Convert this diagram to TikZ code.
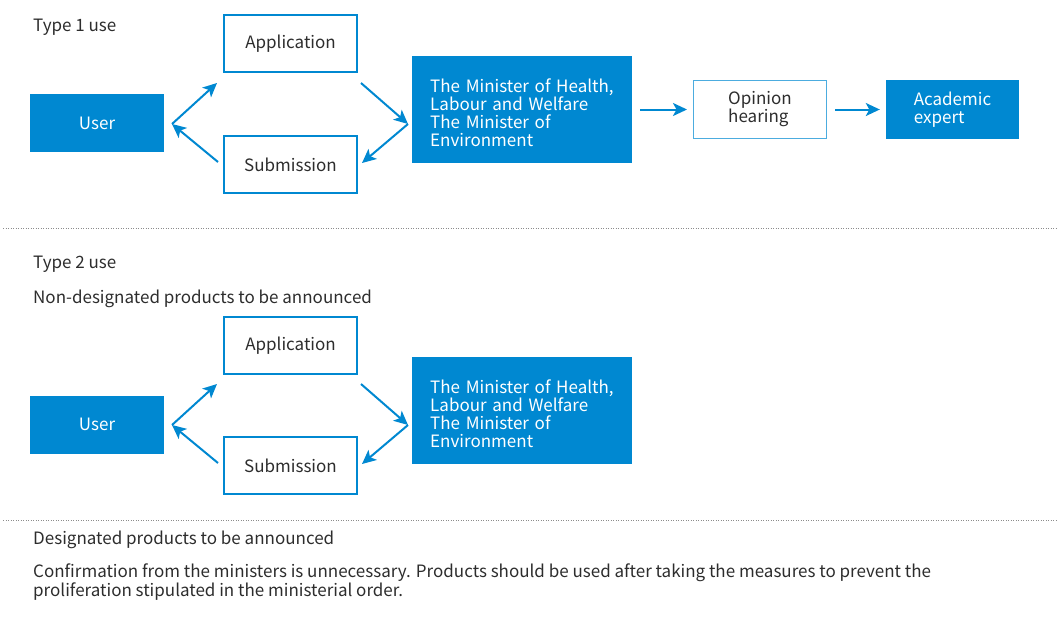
\documentclass[tikz,border=0pt]{standalone}
\usepackage{fontspec}
\setmainfont{Noto Sans CJK JP}
\usetikzlibrary{arrows.meta}
\definecolor{mblue}{RGB}{0,136,209}
\definecolor{mtext}{RGB}{45,45,45}
\newcommand{\topstrut}{\rule{0pt}{19pt}}
\begin{document}
\begin{tikzpicture}[x=1pt,y=-1pt,
  every node/.style={font=\fontsize{17}{18}\selectfont, text=mtext, inner sep=0pt},
  wbox/.style={draw=mblue, line width=2pt, fill=white, minimum width=133pt, minimum height=57pt},
  thinbox/.style={draw=mblue!70, line width=1pt, fill=white, minimum width=133pt, minimum height=58pt, align=left},
  bbox/.style={fill=mblue, text=white, minimum width=134pt, minimum height=58pt, align=left},
  minbox/.style={fill=mblue, text=white, anchor=north west, text width=184pt, inner xsep=18pt, minimum height=107pt, align=left},
  arr/.style={draw=mblue, line width=2pt, -{Stealth[length=14pt,width=13pt,inset=3.5pt]}},
  sep/.style={draw=black!45, line width=1pt, dash pattern=on 1pt off 1.5pt},
  lbl/.style={anchor=west}]
\useasboundingbox (0,0) rectangle (1059,616);

% ---- Type 1 ----
\node[lbl] (t1) at (33,27) {Type 1 use};
\node[wbox] (app1) at (290.5,43.5) {Application};
\node[wbox] (sub1) at (290.5,164.5) {Submission};
\node[bbox] (user1) at (97,123) {User};
\node[minbox] (min1) at (412,56) {\topstrut The Minister of Health,\\Labour and Welfare\\The Minister of\\Environment};
\node[thinbox] (op) at (760,109.5) {Opinion\\hearing};
\node[bbox, minimum width=133pt, minimum height=59pt] (ac) at (952.5,109.5) {Academic\\expert};

\coordinate (l1) at (172,124);
\coordinate (la1) at (217,83);
\coordinate (ls1) at (218,162);
\coordinate (r1) at (408,124);
\coordinate (ra1) at (361,83);
\coordinate (rs1) at (362,163);
\draw[arr] (l1) -- (la1);
\draw[arr] (ls1) -- (l1);
\draw[arr] (ra1) -- (r1);
\draw[arr] (r1) -- (rs1);
\draw[arr] ([xshift=8pt]min1.east |- op.west) -- ([xshift=-6pt]op.west);
\draw[arr] ([xshift=8pt]op.east) -- ([xshift=-6pt]ac.west);

\coordinate (s1a) at (3,228);
\coordinate (s1b) at (1057,228);
\draw[sep] (s1a) -- (s1b);

% ---- Type 2 ----
\node[lbl] (t2) at (33,264) {Type 2 use};
\node[lbl] (nd) at (33,299) {Non-designated products to be announced};
\node[wbox] (app2) at (290.5,345.5) {Application};
\node[wbox] (sub2) at (290.5,465.5) {Submission};
\node[bbox] (user2) at (97,424.5) {User};
\node[minbox] (min2) at (412,357) {\topstrut The Minister of Health,\\Labour and Welfare\\The Minister of\\Environment};

\coordinate (l2) at (172,425);
\coordinate (la2) at (217,384);
\coordinate (ls2) at (218,463);
\coordinate (r2) at (408,425);
\coordinate (ra2) at (361,384);
\coordinate (rs2) at (362,464);
\draw[arr] (l2) -- (la2);
\draw[arr] (ls2) -- (l2);
\draw[arr] (ra2) -- (r2);
\draw[arr] (r2) -- (rs2);

\coordinate (s2a) at (3,520);
\coordinate (s2b) at (1057,520);
\draw[sep] (s2a) -- (s2b);

\node[lbl] (dp) at (33,540) {Designated products to be announced};
\node[anchor=north west, align=left, font=\fontsize{17}{17}\selectfont] (conf) at (33,564) {Confirmation from the ministers is unnecessary. Products should be used after taking the measures to prevent the\\proliferation stipulated in the ministerial order.};
\end{tikzpicture}
\end{document}
